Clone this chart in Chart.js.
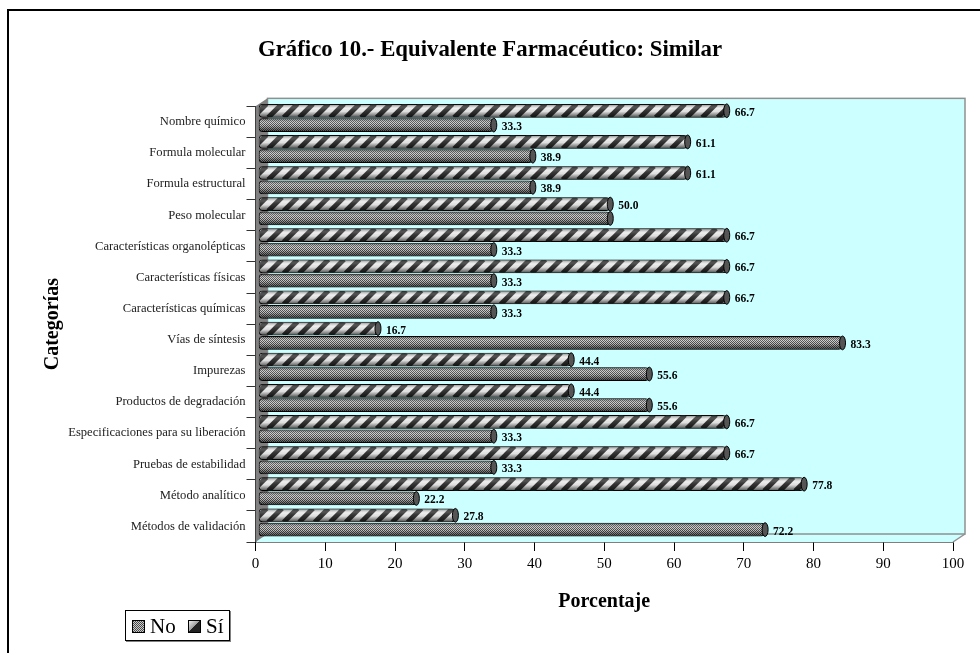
<!DOCTYPE html>
<html>
<head>
<meta charset="utf-8">
<style>
  html, body { margin: 0; padding: 0; background: #fff; }
  #wrap { position: relative; width: 980px; height: 653px; }
</style>
<script src="https://cdn.jsdelivr.net/npm/chart.js@4/dist/chart.umd.min.js"></script>
</head>
<body>
<div id="wrap"><canvas id="grafico" width="980" height="653"></canvas></div>
<script>
const categorias = [
    "Nombre químico", "Formula molecular", "Formula estructural", "Peso molecular",
    "Características organolépticas", "Características físicas", "Características químicas",
    "Vías de síntesis", "Impurezas", "Productos de degradación",
    "Especificaciones para su liberación", "Pruebas de estabilidad",
    "Método analítico", "Métodos de validación"
];
const valoresSi = [66.7, 61.1, 61.1, 50.0, 66.7, 66.7, 66.7, 16.7, 44.4, 44.4, 66.7, 66.7, 77.8, 27.8];
const valoresNo = [33.3, 38.9, 38.9, 50.0, 33.3, 33.3, 33.3, 83.3, 55.6, 55.6, 33.3, 33.3, 22.2, 72.2];
const ticksX = [0, 10, 20, 30, 40, 50, 60, 70, 80, 90, 100];
// En el original la etiqueta de "No" en Peso molecular queda oculta
const sinEtiquetaNo = ["Peso molecular"];

const FUENTE = '"Liberation Serif", serif';
const DX = 6, DY = -4;          // desplazamiento de las barras dentro de la caja 3D
const PROF_X = 12, PROF_Y = 8;  // profundidad de la caja

const ctx = document.getElementById("grafico").getContext("2d");

// Trama de puntos para "No"
function tramaPuntos() {
    const c = document.createElement("canvas");
    c.width = 2; c.height = 2;
    const g = c.getContext("2d");
    g.fillStyle = "#cccccc"; g.fillRect(0, 0, 2, 2);
    g.fillStyle = "#4a4a4a"; g.fillRect(0, 0, 1, 1); g.fillRect(1, 1, 1, 1);
    return ctx.createPattern(c, "repeat");
}

// Rayas diagonales de "Sí", ancladas a cada barra para que todas salgan iguales
function dibujarRayas(c, x0, x1, y0, h) {
    c.save();
    c.beginPath();
    c.rect(x0 + 1, y0 + 0.5, x1 - x0 - 1, h - 1);
    c.clip();
    c.strokeStyle = "#333333";
    c.lineWidth = 5;
    for (let x = x0 - 6; x < x1 + h; x += 15.5) {
        c.beginPath();
        c.moveTo(x, y0 + h);
        c.lineTo(x + h, y0);
        c.stroke();
    }
    c.restore();
}

// Caja 3D: pared del fondo, pared izquierda y piso
const cajaPlugin = {
    id: "caja",
    beforeDatasetsDraw(chart) {
        const { left, right, top, bottom } = chart.chartArea;
        const c = chart.ctx;
        c.save();
        c.fillStyle = "#ccffff";
        c.fillRect(left + PROF_X, top - PROF_Y, right - left, bottom - top);
        c.beginPath();
        c.moveTo(left, bottom); c.lineTo(left + PROF_X, bottom - PROF_Y);
        c.lineTo(right + PROF_X, bottom - PROF_Y); c.lineTo(right, bottom);
        c.closePath(); c.fill();
        c.strokeStyle = "#909090"; c.lineWidth = 1.5;
        c.strokeRect(left + PROF_X, top - PROF_Y, right - left, bottom - top);
        c.beginPath();
        c.moveTo(right + PROF_X, bottom - PROF_Y); c.lineTo(right, bottom); c.stroke();
        c.fillStyle = "#808080";
        c.beginPath();
        c.moveTo(left, top); c.lineTo(left + PROF_X, top - PROF_Y);
        c.lineTo(left + PROF_X, bottom - PROF_Y); c.lineTo(left, bottom);
        c.closePath(); c.fill();
        c.restore();
        c.save();
        c.translate(DX, DY);   // las barras se dibujan corridas
    },
    afterDatasetsDraw(chart) {
        const c = chart.ctx;
        chart.data.datasets.forEach((ds, i) => {
            chart.getDatasetMeta(i).data.forEach((bar, j) => {
                const h = bar.height, y0 = bar.y - h / 2;
                if (ds.label === "Sí") dibujarRayas(c, bar.base, bar.x, y0, h);
                // brillo cilíndrico
                const g = c.createLinearGradient(0, y0, 0, y0 + h);
                g.addColorStop(0, "rgba(0,0,0,0.55)");
                g.addColorStop(0.35, "rgba(255,255,255,0.1)");
                g.addColorStop(0.55, "rgba(0,0,0,0.05)");
                g.addColorStop(1, "rgba(0,0,0,0.7)");
                c.fillStyle = g;
                c.fillRect(bar.base + 1, y0 + 0.5, bar.x - bar.base - 1, h - 1);
                // tapa del cilindro
                c.beginPath();
                c.ellipse(bar.x, bar.y, 3, h / 2, 0, 0, Math.PI * 2);
                c.fillStyle = "#555";
                c.fill();
                c.strokeStyle = "#000"; c.lineWidth = 1;
                c.stroke();
                // valor
                if (ds.label === "No" && sinEtiquetaNo.includes(categorias[j])) return;
                c.fillStyle = "#000";
                c.font = "bold 11.5px " + FUENTE;
                c.textAlign = "left"; c.textBaseline = "middle";
                c.fillText(ds.data[j].toFixed(1), bar.x + 8, bar.y + 2);
            });
        });
        c.restore();
    }
};

// Marco y leyenda
const marcoPlugin = {
    id: "marco",
    beforeDraw(chart) {
        const c = chart.ctx;
        c.save();
        c.strokeStyle = "#000"; c.lineWidth = 2;
        c.beginPath();
        c.moveTo(8, 653); c.lineTo(8, 10); c.lineTo(980, 10);
        c.stroke();
        c.restore();
    },
    afterDraw(chart) {
        const c = chart.ctx;
        c.save();
        c.fillStyle = "#808080"; c.fillRect(126, 611, 105, 31);
        c.fillStyle = "#fff"; c.fillRect(125, 610, 105, 31);
        c.strokeStyle = "#000"; c.lineWidth = 1; c.strokeRect(125.5, 610.5, 104, 30);
        const [si, no] = chart.data.datasets;
        const items = [
            { x: 132, txt: no.label, fill: no.backgroundColor },
            { x: 188, txt: si.label, fill: null }
        ];
        items.forEach(it => {
            if (it.fill) {
                c.fillStyle = it.fill;
            } else {
                const g = c.createLinearGradient(it.x, 620, it.x + 13, 633);
                g.addColorStop(0, "#fff"); g.addColorStop(0.5, "#999"); g.addColorStop(0.5, "#222"); g.addColorStop(1, "#222");
                c.fillStyle = g;
            }
            c.fillRect(it.x, 620, 13, 13);
            c.strokeStyle = "#000"; c.strokeRect(it.x + 0.5, 620.5, 12, 12);
            c.fillStyle = "#000";
            c.font = "21px " + FUENTE;
            c.textAlign = "left"; c.textBaseline = "middle";
            c.fillText(it.txt, it.x + 18, 627);
        });
        c.restore();
    }
};

new Chart(ctx, {
    type: "bar",
    data: {
        labels: categorias,
        datasets: [
            { label: "Sí", data: valoresSi, base: -0.4, backgroundColor: "#ececec", borderColor: "#000", borderWidth: 1, borderRadius: 4, borderSkipped: false, clip: false },
            { label: "No", data: valoresNo, base: -0.4, backgroundColor: tramaPuntos(), borderColor: "#000", borderWidth: 1, borderRadius: 4, borderSkipped: false, clip: false }
        ]
    },
    plugins: [marcoPlugin, cajaPlugin],
    options: {
        indexAxis: "y",
        responsive: false,
        animation: false,
        // area del gráfico: x 255.5-953, y 106-542
        layout: { padding: { left: 27, right: 27, top: 0, bottom: 0 } },
        categoryPercentage: 0.92,
        barPercentage: 0.96,
        scales: {
            x: {
                min: 0, max: 100,
                afterBuildTicks: axis => { axis.ticks = ticksX.map(v => ({ value: v })); },
                grid: { drawOnChartArea: false, drawTicks: true, tickLength: 9, color: "#000" },
                border: { display: true, color: "#000", width: 1.5 },
                ticks: { color: "#000", font: { family: FUENTE, size: 15 }, padding: 4, maxRotation: 0, callback: v => v },
                title: { display: true, text: "Porcentaje", color: "#000", font: { family: FUENTE, size: 20, weight: "bold" }, padding: { top: 0, bottom: 39 } },
                afterFit: s => { s.height = 111; }
            },
            y: {
                grid: { drawOnChartArea: false, drawTicks: true, tickLength: 9, color: "#333" },
                border: { display: true, color: "#000", width: 1 },
                ticks: { color: "#222", font: { family: FUENTE, size: 12.6 }, padding: 1, autoSkip: false },
                title: { display: true, text: "Categorías", color: "#000", font: { family: FUENTE, size: 20, weight: "bold" }, padding: { top: 14, bottom: 0 } },
                afterFit: s => { s.width = 228.5; }
            }
        },
        plugins: {
            legend: { display: false },
            tooltip: { enabled: false },
            title: {
                display: true,
                text: "Gráfico 10.- Equivalente Farmacéutico: Similar",
                color: "#000",
                font: { family: FUENTE, size: 22.8, weight: "bold" },
                padding: { top: 36, bottom: 43 }
            }
        }
    }
});
</script>
</body>
</html>
